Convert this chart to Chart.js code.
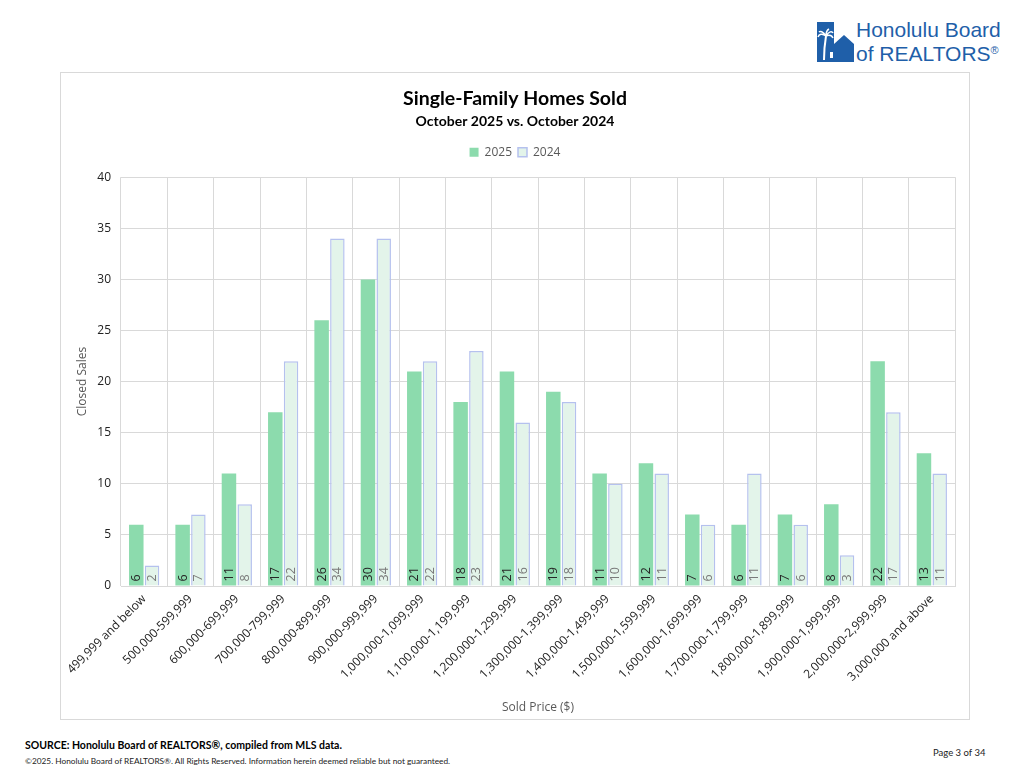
<!DOCTYPE html>
<html><head><meta charset="utf-8">
<script src="https://cdn.jsdelivr.net/npm/chart.js@4.4.1/dist/chart.umd.min.js"></script>
<style>
html,body{margin:0;padding:0;background:#fff;width:1024px;height:782px;overflow:hidden;font-family:'Lato','Open Sans',sans-serif;}
#box{position:absolute;left:60px;top:72px;width:908px;height:646px;border:1px solid #d9d9d9;}
#c{position:absolute;left:0;top:0;}
#logo{position:absolute;left:817px;top:22px;height:40px;}
#logoText{position:absolute;left:856px;top:20px;color:#1f5fa9;font-family:'Liberation Sans',Arial,sans-serif;font-size:21px;line-height:20px;letter-spacing:0px;}
#src{position:absolute;left:25px;top:739px;font-family:'Lato',sans-serif;font-weight:bold;font-size:10.5px;color:#000;}
#copy{position:absolute;left:25px;top:756px;font-family:'Lato',sans-serif;font-size:8.3px;color:#222;}
#page{position:absolute;left:933px;top:747px;font-family:'Lato',sans-serif;font-size:9.5px;color:#222;}
</style></head>
<body>
<svg id="logo" width="38" height="40" viewBox="0 0 38 40">
  <rect x="0" y="0" width="17" height="40" fill="#1f5fa9"/>
  <polygon points="17,40 17,22 27,13 37,22 37,40" fill="#1f5fa9"/>
  <path d="M7,38 C7,28 8,20 9,14" stroke="#fff" stroke-width="2" fill="none"/>
  <path d="M9,14 C5,11 2,12 1,15 M9,14 C6,9 3,9 2,10 M9,14 C12,9 15,9 16,11 M9,14 C13,12 15,14 16,16 M9,14 C9,10 10,8 12,7" stroke="#fff" stroke-width="1.5" fill="none"/>
  <rect x="13" y="30" width="3" height="6" fill="#fff"/>
</svg>
<div id="logoText">Honolulu Board<br>of REALTORS<sup style="font-size:11px;vertical-align:7px">®</sup></div>
<div id="box"><canvas id="c" width="908" height="646"></canvas></div>
<div id="src">SOURCE: Honolulu Board of REALTORS®, compiled from MLS data.</div>
<div id="copy">©2025. Honolulu Board of REALTORS®. All Rights Reserved. Information herein deemed reliable but not guaranteed.</div>
<div id="page">Page 3 of 34</div>
<script>
const categories = ["499,999 and below","500,000-599,999","600,000-699,999","700,000-799,999","800,000-899,999","900,000-999,999","1,000,000-1,099,999","1,100,000-1,199,999","1,200,000-1,299,999","1,300,000-1,399,999","1,400,000-1,499,999","1,500,000-1,599,999","1,600,000-1,699,999","1,700,000-1,799,999","1,800,000-1,899,999","1,900,000-1,999,999","2,000,000-2,999,999","3,000,000 and above"];
const sales2025 = [6,6,11,17,26,30,21,18,21,19,11,12,7,6,7,8,22,13];
const sales2024 = [2,7,8,22,34,34,22,23,16,18,10,11,6,11,6,3,17,11];
const yTicks = [0,5,10,15,20,25,30,35,40];

const labelPlugin = {
  id:'barLabels',
  afterDatasetsDraw(chart){
    const ctx = chart.ctx;
    chart.data.datasets.forEach((ds,di)=>{
      const meta = chart.getDatasetMeta(di);
      meta.data.forEach((bar,i)=>{
        ctx.save();
        ctx.translate(bar.x, bar.base - 4);
        ctx.rotate(-Math.PI/2);
        ctx.font = '12.5px "Open Sans", sans-serif';
        ctx.fillStyle = di===0 ? '#262626' : '#7a7a7a';
        ctx.textAlign='left';
        ctx.textBaseline='middle';
        ctx.fillText(String(ds.data[i]),0,0.5);
        ctx.restore();
      });
    });
  }
};
const legendMargin = {
  id:'legendMargin',
  afterInit(chart){
    const lg = chart.legend;
    if(!lg) return;
    const orig = lg.fit;
    lg.fit = function(){ orig.call(this); this.height += 9; };
  }
};

new Chart(document.getElementById('c'),{
  type:'bar',
  data:{
    labels:categories,
    datasets:[
      {label:'2025',data:sales2025,backgroundColor:'#8cdbad',borderWidth:0},
      {label:'2024',data:sales2024,backgroundColor:'#e3f4ea',borderColor:'#b5c1ee',borderWidth:1.5,borderSkipped:'bottom'}
    ]
  },
  options:{
    responsive:false,animation:false,
    devicePixelRatio:1,
    layout:{padding:{left:14,right:14,top:0,bottom:0}},
    categoryPercentage:0.68,barPercentage:0.92,
    plugins:{
      title:{display:true,text:'Single-Family Homes Sold',color:'#000',font:{family:'Lato',size:19.5,weight:'bold'},padding:{top:14,bottom:3}},
      subtitle:{display:true,text:'October 2025 vs. October 2024',color:'#000',font:{family:'Lato',size:14,weight:'bold'},padding:{bottom:10}},
      legend:{display:true,labels:{boxWidth:9,boxHeight:9,color:'#595959',font:{family:'Open Sans',size:12},padding:6}},
      tooltip:{enabled:false}
    },
    scales:{
      x:{
        grid:{color:'#d9d9d9',offset:true,drawTicks:false},
        border:{color:'#d9d9d9'},
        ticks:{color:'#222',font:{family:'Open Sans',size:12},maxRotation:45,minRotation:45,padding:6},
        title:{display:true,text:'Sold Price ($)',color:'#595959',font:{family:'Open Sans',size:12},padding:{top:0,bottom:4}},
        afterFit(s){s.height=133;}
      },
      y:{
        min:0,max:40,
        afterBuildTicks(s){s.ticks=yTicks.map(v=>({value:v}));},
        grid:{color:'#d9d9d9',drawTicks:false},
        border:{display:false},
        ticks:{color:'#222',font:{family:'Open Sans',size:12},padding:10},
        title:{display:true,text:'Closed Sales',color:'#595959',font:{family:'Open Sans',size:12},padding:{top:0,bottom:8}},
        afterFit(s){s.width=46;}
      }
    }
  },
  plugins:[labelPlugin,legendMargin]
});
</script>
</body></html>
